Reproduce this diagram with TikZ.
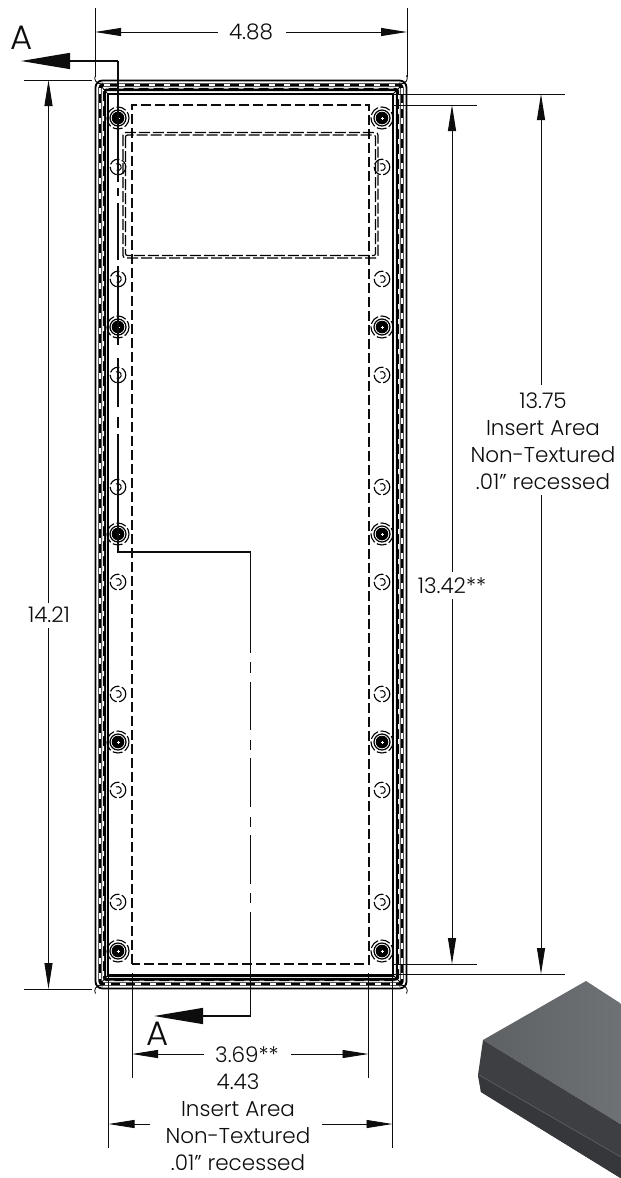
\documentclass[tikz,border=0pt]{standalone}
\usepackage{fontspec}
\setmainfont{Poppins}[UprightFont=* Light]
\usetikzlibrary{arrows.meta}
\definecolor{ink}{gray}{0.05}
\definecolor{topL}{RGB}{94,97,100}
\definecolor{topR}{RGB}{112,115,119}
\definecolor{frontU}{RGB}{62,63,67}
\definecolor{frontD}{RGB}{54,55,58}
\definecolor{seam}{RGB}{98,99,102}
\tikzset{
 dimline/.style={draw=ink,line width=0.9pt},
 dimarrow/.style={draw=ink,line width=0.9pt,-{Triangle[length=26pt,width=8pt]}},
 secline/.style={draw=ink,line width=1.3pt},
 secarrow/.style={draw=ink,line width=1.3pt,-{Triangle[length=49pt,width=16pt]}},
 dimtext/.style={text=ink,inner sep=0pt,font=\fontsize{21.5}{27}\selectfont,align=center},
 lettertext/.style={text=ink,inner sep=0pt,font=\fontsize{34}{34}\selectfont},
 dashbox/.style={draw=ink,line width=1.1pt,dash pattern=on 10pt off 4pt},
 windowline/.style={draw=black,line width=1.2pt,dash pattern=on 11pt off 3pt},
 pics/bigscrew/.style={code={
   \fill[black] (0,0) circle (6.3);
   \draw[black,line width=1.2pt] (0,0) circle (8);
   \draw[black,line width=1.1pt,dash pattern=on 10pt off 2.5pt] (0,0) circle (11);
   \draw[white,line width=.6pt] (-1.5,0)--(1.5,0) (0,-1.5)--(0,1.5);
 }},
 pics/smallscrew/.style={code={
   \draw[black,line width=1.1pt,dash pattern=on 11pt off 2.5pt] (0,0) circle (7.8);
   \draw[black,line width=1pt] (-2,-3) arc[start angle=-120,end angle=110,radius=3.5];
 }}
}
\begin{document}
\begin{tikzpicture}[x=1pt,y=-1pt]
\useasboundingbox (0,0) rectangle (621,1178);
\fill[white] (0,0) rectangle (621,1178);
% 3D view
\begin{scope}
\clip (0,0) rectangle (621,1178);
\shade[left color=topL,right color=topR]
  (483,1040) -- (586,981) -- (640,1016) -- (640,1136) -- cycle;
\fill[frontU] (483,1040) -- (640,1136) -- (640,1190) -- (481,1092) -- (478,1075) -- cycle;
\fill[frontD] (478,1075) -- (640,1168) -- (640,1190) -- (481,1092) -- cycle;
\draw[seam,line width=.6pt] (479,1075) -- (640,1168);
\end{scope}
% frame
\draw[black,line width=1.8pt,rounded corners=7pt] (95.5,80.5) rectangle (406.5,988.5);
\draw[black,line width=3.4pt,rounded corners=3pt] (100,85) rectangle (402,984);
\draw[white,line width=1.1pt,dash pattern=on 6pt off 9pt,rounded corners=3pt] (100,85) rectangle (402,984);
\draw[black,line width=3.2pt,rounded corners=2pt] (104.5,89.5) rectangle (397.5,979.5);
\draw[white,line width=1pt,dash pattern=on 5pt off 10pt,dash phase=4pt,rounded corners=2pt] (103.5,88) rectangle (398.5,981);
\draw[black,line width=2.8pt] (108,94) rectangle (393,975.5);
\fill[white] (109.4,95.4) rectangle (391.6,974.1);
\draw[black,line width=.8pt] (101,86) -- (108,94) (401,86) -- (393,94) (101,983) -- (108,975) (401,983) -- (393,975);
\draw[black,line width=.8pt] (103,83) arc[start angle=60,end angle=210,radius=5.5] (399,83) arc[start angle=120,end angle=-30,radius=5.5] (103,986) arc[start angle=-60,end angle=-210,radius=5.5] (399,986) arc[start angle=240,end angle=390,radius=5.5];
% insert area and window
\draw[dashbox] (132,964) -- (132,105) -- (369,105) -- (369,964) -- cycle;
\draw[windowline,rounded corners=2.5pt] (123,132.5) rectangle (378,258);
\draw[windowline,rounded corners=2pt] (125.5,135) rectangle (375.5,255.5);
% screws
\foreach \y in {118,327,534,742,951} {
  \pic at (118,\y) {bigscrew};
  \pic at (382,\y) {bigscrew};
}
\foreach \y in {167,279,375,487,582,694,790,902} {
  \pic at (118,\y) {smallscrew};
  \pic at (382,\y) {smallscrew};
}
% section line A-A
\coordinate (secTopBend) at (118,61);
\coordinate (secTopTip) at (21,61);
\coordinate (secMidA) at (118,552);
\coordinate (secMidB) at (250.5,552);
\coordinate (secBotBend) at (250.5,1016);
\coordinate (secBotTip) at (154,1016);
\draw[secarrow] (secTopBend) -- (secTopTip);
\draw[secline] (secTopBend) -- (118,182);
\draw[secline] (118,188)--(118,196) (118,203)--(118,260) (118,266)--(118,345) (118,358)--(118,407) (118,417)--(118,428) (118,434)--(secMidA) -- (secMidB) -- (250.5,653);
\draw[secline] (250.5,662)--(250.5,673) (250.5,682)--(250.5,730) (250.5,740)--(250.5,750) (250.5,758)--(250.5,807) (250.5,817)--(250.5,827) (250.5,835)--(250.5,884) (250.5,893)--(250.5,903) (250.5,912)--(secBotBend);
\draw[secarrow] (secBotBend) -- (secBotTip);
\node[lettertext] (lblA1) at (22,38) {A};
\node[lettertext] (lblA2) at (158,1034) {A};
% 4.88
\coordinate (a1) at (95,32); \coordinate (a2) at (407,32);
\draw[dimline] (95,8) -- (95,77) (407,8) -- (407,77);
\node[dimtext] (d488) at (251,32) {4.88};
\draw[dimarrow] (218,32) -- (a1);
\draw[dimarrow] (286,32) -- (a2);
% 14.21
\coordinate (b1) at (48.5,80); \coordinate (b2) at (48.5,989);
\draw[dimline] (24,80) -- (92,80) (24,989) -- (92,989);
\node[dimtext] (d1421) at (49,615) {14.21};
\draw[dimarrow] (48.5,603) -- (b1);
\draw[dimarrow] (48.5,628) -- (b2);
% 13.42
\coordinate (c1) at (452,105); \coordinate (c2) at (452,964);
\draw[dimline] (393,105) -- (477,105) (393,964) -- (477,964);
\node[dimtext] (d1342) at (452,586) {13.42**};
\draw[dimarrow] (452,572) -- (c1);
\draw[dimarrow] (452,599) -- (c2);
% 13.75
\coordinate (e1) at (541,94); \coordinate (e2) at (541,974);
\draw[dimline] (393,94) -- (565,94) (393,974) -- (565,974);
\node[dimtext] (d1375) at (543,441) {13.75\\Insert Area\\Non-Textured\\.01" recessed};
\draw[dimarrow] (541,385) -- (e1);
\draw[dimarrow] (541,495) -- (e2);
% 3.69
\coordinate (f1) at (132,1054); \coordinate (f2) at (368.5,1054);
\draw[dimline] (132,973) -- (132,1078) (368.5,973) -- (368.5,1078);
\node[dimtext] (d369) at (247,1055) {3.69**};
\draw[dimarrow] (204,1054) -- (f1);
\draw[dimarrow] (291,1054) -- (f2);
% 4.43
\coordinate (g1) at (108.5,1124); \coordinate (g2) at (392.5,1124);
\draw[dimline] (108.5,976) -- (108.5,1148) (392.5,976) -- (392.5,1148);
\node[dimtext] (d443) at (238,1122) {4.43\\Insert Area\\Non-Textured\\.01" recessed};
\draw[dimarrow] (150,1124) -- (g1);
\draw[dimarrow] (322,1124) -- (g2);
\end{tikzpicture}
\end{document}
